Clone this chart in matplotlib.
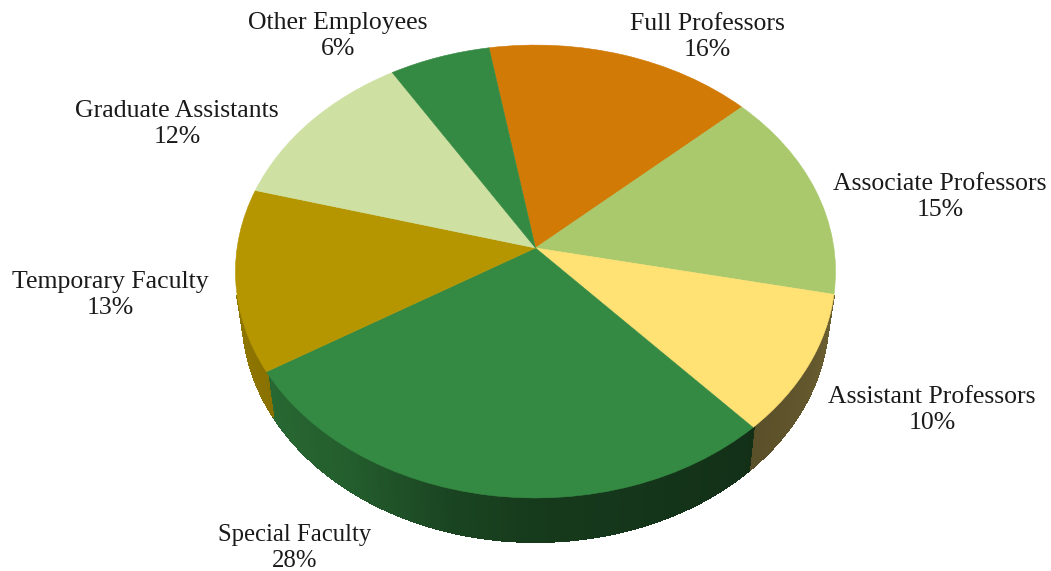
import numpy as np
import matplotlib
matplotlib.use("Agg")
import matplotlib.pyplot as plt
from matplotlib.collections import PolyCollection
from matplotlib.transforms import Transform

categories = ["Full Professors", "Associate Professors", "Assistant Professors",
              "Special Faculty", "Temporary Faculty", "Graduate Assistants", "Other Employees"]
values = [16, 15, 10, 28, 13, 12, 6]
colors = ["#D17A06", "#A9C96C", "#FFE174", "#358A43", "#B59500", "#CEE1A2", "#358A43"]
label_xy = [(707, 37), (940, 197), (932, 410), (295, 548), (110, 295), (177, 124), (338, 36)]
label_size = [18.5, 18.5, 18.5, 17.8, 18.5, 18.5, 18.5]

APEX = (535.5, 248.0)
K, A, B = 0.1038, 224.0, 298.4
DEPTH, SHRINK = 44.0, 0.977


class Perspective(Transform):
    input_dims = output_dims = 2
    is_affine = False

    def transform_non_affine(self, xy):
        xy = np.asarray(xy, float)
        d = 1 + K * xy[:, 1]
        return np.column_stack([APEX[0] + B * xy[:, 0] / d, APEX[1] - A * xy[:, 1] / d])

    def inverted(self):
        raise NotImplementedError


plt.rcParams["font.family"] = ["Liberation Serif", "DejaVu Serif"]
fig = plt.figure(figsize=(10.51, 5.71), dpi=100)
ax = fig.add_axes([0, 0, 1, 1])

wedges, _ = ax.pie(values, colors=colors, startangle=99.9, counterclock=False,
                   wedgeprops=dict(linewidth=0.4))
ax.set_aspect("auto")
ax.set_xlim(0, 1051)
ax.set_ylim(571, 0)
ax.axis("off")

persp = Perspective()
for w in wedges:
    w.set_transform(persp + ax.transData)
    w.set_edgecolor(w.get_facecolor())
    w.set_zorder(3)

# side wall: thin strips, shaded with the angle
shade_t = [-200, -155, -125, -105, -90, -48, -11, 10]
shade_v = [0.82, 0.78, 0.68, 0.50, 0.42, 0.35, 0.42, 0.42]
for w in wedges:
    ts = np.arange(w.theta1, w.theta2 + 0.5, 0.5)
    ts = ts[np.sin(np.radians(ts)) < -0.205]
    if len(ts) < 2:
        continue
    base = np.array(w.get_facecolor()[:3])
    polys, cols = [], []
    for a, b in zip(ts[:-1], ts[1:]):
        pts = persp.transform(np.column_stack([np.cos(np.radians([a, b])), np.sin(np.radians([a, b]))]))
        low = np.column_stack([APEX[0] + (pts[:, 0] - APEX[0]) * SHRINK, pts[:, 1] + DEPTH])
        polys.append(np.vstack([pts, low[::-1]]))
        m = (a + b) / 2
        m = (m + 180) % 360 - 180
        m = m if m < 20 else m - 360
        cols.append(tuple(base * np.interp(m, shade_t, shade_v)))
    ax.add_collection(PolyCollection(polys, facecolors=cols, edgecolors=cols, linewidths=0.8,
                                     antialiaseds=False, zorder=2))

for name, v, (x, y), s in zip(categories, values, label_xy, label_size):
    ax.text(x, y, f"{name}\n{v}%", ha="center", va="center", fontsize=s,
            color="#1a1a1a", linespacing=1.2, zorder=5)

fig.savefig("out.png", dpi=100)
